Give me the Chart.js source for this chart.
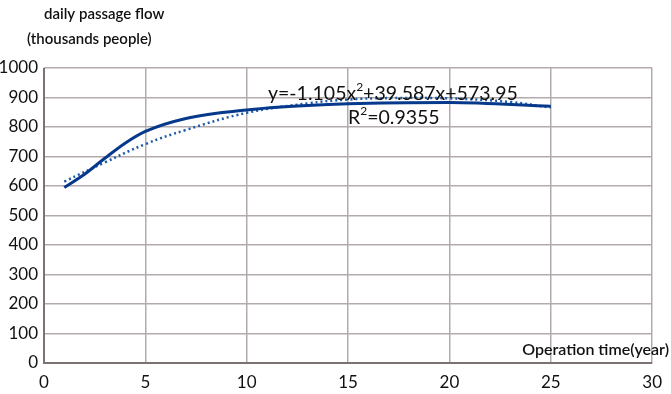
<!DOCTYPE html>
<html>
<head>
<meta charset="utf-8">
<script src="https://cdn.jsdelivr.net/npm/chart.js@4"></script>
<style>
  html, body { margin: 0; padding: 0; background: #fff; }
  #wrap { position: relative; width: 671px; height: 394px; }
</style>
</head>
<body>
<div id="wrap"><canvas id="flowChart" width="671" height="394"></canvas></div>
<script>
// operation year, observed daily passenger flow (thousand people)
var years = [1, 2, 3, 4, 5, 7, 10, 13, 15, 20, 25];
var flow = [595, 640, 694, 745, 785, 829, 858, 873, 879, 883, 870];
// polynomial trend line
var trendYears = [1, 3, 5, 7, 10, 13, 15, 17, 20, 23, 25];
var trendFlow = [615, 680, 742, 790, 848, 880, 893, 898, 897, 885, 866];
var xTicks = [0, 5, 10, 15, 20, 25, 30];
var yTicks = [0, 100, 200, 300, 400, 500, 600, 700, 800, 900, 1000];

var fontFamily = "Lato, 'Open Sans', sans-serif";
var gridColor = "#b3abab";
var axisColor = "#7d7272";

function toPoints(xs, ys) {
    var pts = [];
    for (var i = 0; i < xs.length; i++) {
        pts.push({ x: xs[i], y: ys[i] });
    }
    return pts;
}

// titles and equation text
var labelsPlugin = {
    id: "labelsPlugin",
    afterDraw: function (chart) {
        var ctx = chart.ctx;
        var x = chart.scales.x;
        var y = chart.scales.y;
        ctx.save();
        ctx.fillStyle = "#111";
        ctx.textBaseline = "middle";
        ctx.font = "600 15px " + fontFamily;
        ctx.textAlign = "left";
        ctx.fillText("daily passage flow", 44, 14);
        ctx.fillText("(thousands people)", 27, 39);
        ctx.font = "600 16px " + fontFamily;
        ctx.textAlign = "right";
        ctx.fillText("Operation time(year)", 669, 350);
        ctx.textAlign = "left";
        var eqX = 268;
        ctx.font = "19.5px " + fontFamily;
        ctx.fillText("y=-1.105x", eqX, 94);
        var w = ctx.measureText("y=-1.105x").width;
        ctx.font = "12px " + fontFamily;
        ctx.fillText("2", eqX + w, 87);
        var w2 = ctx.measureText("2").width;
        ctx.font = "19.5px " + fontFamily;
        ctx.fillText("+39.587x+573.95", eqX + w + w2, 94);
        ctx.fillText("R", 348, 118);
        var wr = ctx.measureText("R").width;
        ctx.font = "12px " + fontFamily;
        ctx.fillText("2", 348 + wr, 111);
        ctx.font = "19.5px " + fontFamily;
        ctx.fillText("=0.9355", 348 + wr + w2, 118);
        // axis lines
        ctx.strokeStyle = axisColor;
        ctx.lineWidth = 2;
        ctx.beginPath();
        ctx.moveTo(x.left, y.top);
        ctx.lineTo(x.left, y.bottom);
        ctx.lineTo(x.right, y.bottom);
        ctx.stroke();
        ctx.restore();
    },
};

var config = {
    type: "line",
    data: {
        datasets: [
            {
                label: "flow",
                data: toPoints(years, flow),
                borderColor: "#06398c",
                borderWidth: 3,
                pointRadius: 0,
                cubicInterpolationMode: "monotone",
                order: 1,
            },
            {
                label: "trend",
                data: toPoints(trendYears, trendFlow),
                borderColor: "#1d5aa8",
                borderWidth: 2.5,
                borderDash: [2, 3],
                pointRadius: 0,
                tension: 0.4,
                order: 2,
            },
        ],
    },
    options: {
        responsive: false,
        animation: false,
        layout: { padding: { top: 68, right: 17, left: 0, bottom: 0 } },
        plugins: {
            legend: { display: false },
            tooltip: { enabled: false },
        },
        scales: {
            x: {
                type: "linear",
                min: 0,
                max: 30,
                afterBuildTicks: function (axis) {
                    axis.ticks = xTicks.map(function (v) { return { value: v }; });
                },
                afterFit: function (axis) { axis.height = 31; },
                grid: { color: gridColor, lineWidth: 1.5, drawTicks: false },
                border: { display: false },
                ticks: {
                    color: "#111",
                    padding: 9,
                    font: { family: fontFamily, size: 17 },
                    callback: function (v) { return String(v); },
                },
            },
            y: {
                min: 0,
                max: 1000,
                afterBuildTicks: function (axis) {
                    axis.ticks = yTicks.map(function (v) { return { value: v }; });
                },
                afterFit: function (axis) { axis.width = 44; },
                grid: { color: gridColor, lineWidth: 1.5, drawTicks: false },
                border: { display: false },
                ticks: {
                    color: "#111",
                    padding: 6,
                    font: { family: fontFamily, size: 17 },
                    callback: function (v) { return String(v); },
                },
            },
        },
    },
    plugins: [labelsPlugin],
};

var flowChart = new Chart("flowChart", config);
</script>
</body>
</html>
